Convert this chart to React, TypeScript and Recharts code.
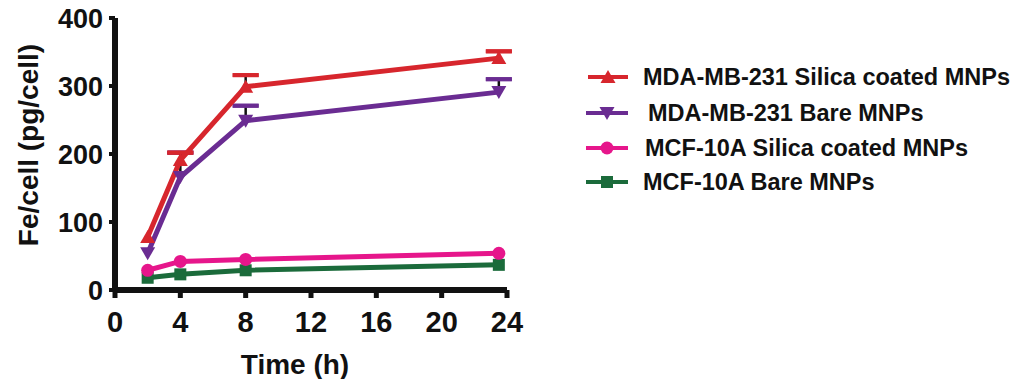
import React from 'react';
import { LineChart, Line, XAxis, YAxis, ErrorBar } from 'recharts';

const hours = [2, 4, 8, 23.5];
const mdaSilica = [78, 191, 299, 341];
const mdaSilicaErr = [null, 11, 17, 10];
const mdaBare = [54, 166, 249, 291];
const mdaBareErr = [null, 36, 22, 19];
const mcfSilica = [29, 42, 45, 54];
const mcfBare = [18, 23, 29, 37];
const xTicks = [0, 4, 8, 12, 16, 20, 24];
const yTicks = [0, 100, 200, 300, 400];

const seriesNames = [
  'MDA-MB-231 Silica coated MNPs',
  'MDA-MB-231 Bare MNPs',
  'MCF-10A Silica coated MNPs',
  'MCF-10A Bare MNPs',
];
const colors = ['#d7262d', '#6a2c92', '#e6168b', '#1b6b3b'];
const shapes = ['up', 'down', 'circle', 'square'];

// cap: both ends placed at value + err (upper-only cap); stem: from value to value + err
const capOf = (e: number | null) => (e == null ? null : [-e, e]);
const stemOf = (e: number | null) => (e == null ? null : [0, e]);

const data = hours.map((h, i) => ({
  h,
  a: mdaSilica[i],
  aCap: capOf(mdaSilicaErr[i]),
  aStem: stemOf(mdaSilicaErr[i]),
  b: mdaBare[i],
  bCap: capOf(mdaBareErr[i]),
  bStem: stemOf(mdaBareErr[i]),
  c: mcfSilica[i],
  d: mcfBare[i],
}));

const FONT = '"Liberation Sans", Arial, sans-serif';

function Marker({ shape, color, cx, cy }: any) {
  if (shape === 'up') {
    return <polygon points={`${cx - 7.5},${cy + 6} ${cx + 7.5},${cy + 6} ${cx},${cy - 7}`} fill={color} />;
  }
  if (shape === 'down') {
    return <polygon points={`${cx - 7.5},${cy - 6} ${cx + 7.5},${cy - 6} ${cx},${cy + 7}`} fill={color} />;
  }
  if (shape === 'circle') {
    return <circle cx={cx} cy={cy} r={6.5} fill={color} />;
  }
  return <rect x={cx - 6} y={cy - 6} width={12} height={12} fill={color} />;
}

const makeDot = (shape: string, color: string) => (props: any) => {
  const { cx, cy, index } = props;
  return <Marker key={`dot-${shape}-${index}`} shape={shape} color={color} cx={cx} cy={cy} />;
};

const xTickStyle = { fontSize: 29, fontWeight: 700, fill: '#111', fontFamily: FONT };
const yTickStyle = { fontSize: 27, fontWeight: 700, fill: '#111', fontFamily: FONT };

function Legend() {
  const rows = [77, 113, 148, 182];
  const lineX = [[588, 628], [586, 628], [586, 628], [586, 628]];
  const textX = [643, 648, 645, 643];
  return (
    <svg width={1014} height={379} style={{ position: 'absolute', left: 0, top: 0, pointerEvents: 'none' }}>
      {seriesNames.map((name, i) => {
        const cx = (lineX[i][0] + lineX[i][1]) / 2;
        return (
          <g key={name}>
            <line x1={lineX[i][0]} x2={lineX[i][1]} y1={rows[i]} y2={rows[i]} stroke={colors[i]} strokeWidth={4} />
            <Marker shape={shapes[i]} color={colors[i]} cx={cx} cy={rows[i]} />
            <text x={textX[i]} y={rows[i] + 8} fontSize={23.5} fontWeight={700} fill="#111" fontFamily={FONT}>
              {name}
            </text>
          </g>
        );
      })}
    </svg>
  );
}

export default function App() {
  return (
    <div style={{ position: 'absolute', left: 0, top: 0, width: 1014, height: 379, background: '#fff' }}>
      <LineChart
        width={1014}
        height={379}
        data={data}
        margin={{ top: 18, right: 507, bottom: 29, left: 15 }}
      >
        <XAxis
          dataKey="h"
          type="number"
          domain={[0, 24]}
          ticks={xTicks}
          interval={0}
          height={60}
          axisLine={{ stroke: '#111', strokeWidth: 6 }}
          tickLine={{ stroke: '#111', strokeWidth: 5 }}
          tickSize={8}
          tickMargin={13}
          tick={xTickStyle}
          label={{
            content: () => (
              <text x={295} y={374} textAnchor="middle" fontSize={28} fontWeight={700} fill="#111" fontFamily={FONT}>
                Time (h)
              </text>
            ),
          }}
        />
        <YAxis
          type="number"
          domain={[0, 400]}
          ticks={yTicks}
          interval={0}
          width={100}
          axisLine={{ stroke: '#111', strokeWidth: 6 }}
          tickLine={{ stroke: '#111', strokeWidth: 4 }}
          tickSize={6}
          tickMargin={6}
          tick={yTickStyle}
          label={{
            content: () => (
              <text
                x={0}
                y={0}
                transform="translate(38,145) rotate(-90)"
                textAnchor="middle"
                fontSize={28}
                fontWeight={700}
                fill="#111"
                fontFamily={FONT}
              >
                Fe/cell (pg/cell)
              </text>
            ),
          }}
        />
        <Line
          dataKey="d"
          stroke={colors[3]}
          strokeWidth={5}
          dot={makeDot(shapes[3], colors[3])}
          activeDot={false}
          isAnimationActive={false}
        />
        <Line
          dataKey="c"
          stroke={colors[2]}
          strokeWidth={5}
          dot={makeDot(shapes[2], colors[2])}
          activeDot={false}
          isAnimationActive={false}
        />
        <Line
          dataKey="b"
          stroke={colors[1]}
          strokeWidth={5}
          dot={makeDot(shapes[1], colors[1])}
          activeDot={false}
          isAnimationActive={false}
        >
          <ErrorBar dataKey="bStem" width={0} stroke="#111" strokeWidth={2.5} direction="y" isAnimationActive={false} />
          <ErrorBar dataKey="bCap" width={13} stroke={colors[1]} strokeWidth={4} direction="y" isAnimationActive={false} />
        </Line>
        <Line
          dataKey="a"
          stroke={colors[0]}
          strokeWidth={5}
          dot={makeDot(shapes[0], colors[0])}
          activeDot={false}
          isAnimationActive={false}
        >
          <ErrorBar dataKey="aStem" width={0} stroke="#111" strokeWidth={2.5} direction="y" isAnimationActive={false} />
          <ErrorBar dataKey="aCap" width={13} stroke={colors[0]} strokeWidth={4} direction="y" isAnimationActive={false} />
        </Line>
      </LineChart>
      <Legend />
    </div>
  );
}
